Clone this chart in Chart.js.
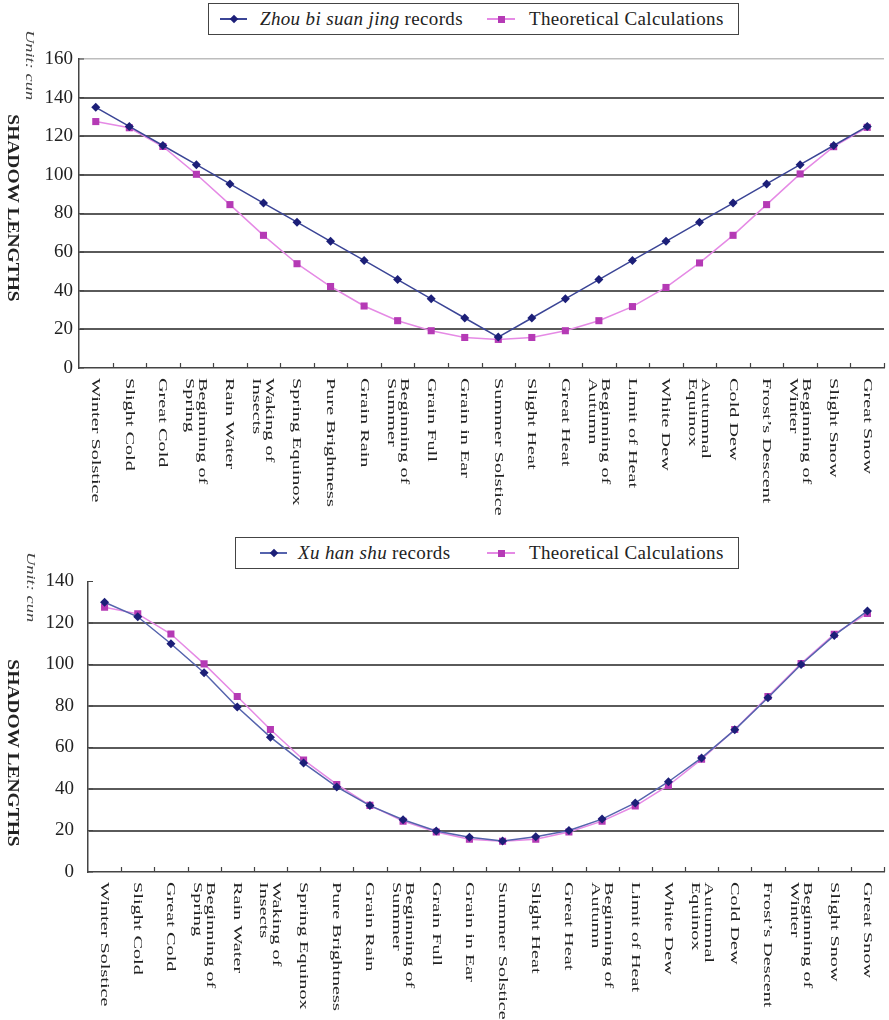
<!DOCTYPE html>
<html>
<head>
<meta charset="utf-8">
<script src="https://cdn.jsdelivr.net/npm/chart.js@4.4.1/dist/chart.umd.min.js"></script>
<style>
  html, body { margin: 0; padding: 0; background: #fff; }
  body { width: 889px; height: 1020px; position: relative; overflow: hidden;
         font-family: "Liberation Serif", "Times New Roman", "DejaVu Serif", serif; color: #222; }
  .panel { position: absolute; left: 0; width: 889px; }
  .legend { position: absolute; border: 1.5px solid #444; box-sizing: border-box; height: 32px;
            font-size: 19px; letter-spacing: 0.35px; white-space: nowrap; background: #fff; }
  .legend span.txt { position: absolute; top: 50%; transform: translateY(-52%); line-height: 1; }
  .sample { position: absolute; top: 50%; height: 0; }
  .sample .ln { position: absolute; left: 0; right: 0; top: -0.75px; height: 1.5px; }
  .sample .mk { position: absolute; }
  .ytitle { position: absolute; font-weight: bold; font-size: 16.5px; line-height: 1; white-space: nowrap;
            transform: translate(-50%, -50%) rotate(90deg) scaleX(1.18); }
  .unit { position: absolute; font-style: italic; font-size: 13px; line-height: 1; color: #444; white-space: nowrap;
          transform: translate(-50%, -50%) rotate(90deg) scaleX(1.42); }
</style>
</head>
<body>

<div class="panel" style="top:0;height:520px"><canvas id="chartTop" width="889" height="520"></canvas></div>
<div class="panel" style="top:520px;height:500px"><canvas id="chartBottom" width="889" height="500"></canvas></div>

<div class="ytitle" style="left:12.5px;top:207.5px">SHADOW LENGTHS</div>
<div class="unit" style="left:30px;top:65px">Unit: cun</div>
<div class="ytitle" style="left:12.5px;top:752.5px">SHADOW LENGTHS</div>
<div class="unit" style="left:31px;top:587px">Unit: cun</div>

<div class="legend" style="left:208px;top:3px;width:531px">
  <div class="sample" style="left:11px;width:27px"><div class="ln" style="background:#3b4596"></div>
    <div class="mk" style="left:10.5px;top:-3px;width:6px;height:6px;background:#1c1f78;transform:rotate(45deg)"></div></div>
  <span class="txt" style="left:51px"><i>Zhou bi suan jing</i> records</span>
  <div class="sample" style="left:278px;width:28px"><div class="ln" style="background:#e58ae5"></div>
    <div class="mk" style="left:10.5px;top:-3.5px;width:7px;height:7px;background:#b53ab5"></div></div>
  <span class="txt" style="left:320px">Theoretical Calculations</span>
</div>

<div class="legend" style="left:235px;top:537px;width:504px">
  <div class="sample" style="left:24px;width:27px"><div class="ln" style="background:#5563ad"></div>
    <div class="mk" style="left:10.5px;top:-3px;width:6px;height:6px;background:#1c1f78;transform:rotate(45deg)"></div></div>
  <span class="txt" style="left:62px"><i>Xu han shu</i> records</span>
  <div class="sample" style="left:251px;width:28px"><div class="ln" style="background:#e58ae5"></div>
    <div class="mk" style="left:10.5px;top:-3.5px;width:7px;height:7px;background:#b53ab5"></div></div>
  <span class="txt" style="left:293px">Theoretical Calculations</span>
</div>

<script>
// 24 solar terms, Winter Solstice to Great Snow
const categories = [
  "Winter Solstice", "Slight Cold", "Great Cold", ["Beginning of", "Spring"], "Rain Water",
  ["Waking of", "Insects"], "Spring Equinox", "Pure Brightness", "Grain Rain", ["Beginning of", "Summer"],
  "Grain Full", "Grain in Ear", "Summer Solstice", "Slight Heat", "Great Heat", ["Beginning of", "Autumn"],
  "Limit of Heat", "White Dew", ["Autumnal", "Equinox"], "Cold Dew", "Frost\u2019s Descent",
  ["Beginning of", "Winter"], "Slight Snow", "Great Snow"
];

// shadow lengths, unit: cun
const zhouBiRecords = [135.0, 125.1, 115.2, 105.3, 95.3, 85.4, 75.5, 65.6, 55.7, 45.8, 35.8, 25.9,
  16.0, 25.9, 35.8, 45.8, 55.7, 65.6, 75.5, 85.4, 95.3, 105.3, 115.2, 125.1];
const xuHanShuRecords = [130.0, 123.0, 110.0, 96.0, 79.5, 65.0, 52.5, 41.0, 32.0, 25.2, 19.8, 16.8,
  15.0, 17.0, 20.0, 25.5, 33.3, 43.5, 55.0, 68.5, 84.0, 100.0, 114.0, 125.8];
const theoretical = [127.6, 124.4, 114.7, 100.3, 84.6, 68.7, 54.0, 42.2, 32.1, 24.5, 19.3, 15.8,
  14.8, 15.8, 19.3, 24.5, 31.8, 41.7, 54.4, 68.7, 84.6, 100.5, 114.6, 124.6];

const topMax = 160;
const bottomMax = 140;

const serif = '"Liberation Serif", "Times New Roman", "DejaVu Serif", serif';

// inner tick marks + rotated category labels (read top to bottom)
const axisExtras = {
  id: "axisExtras",
  afterDraw(chart) {
    const { ctx, chartArea, scales: { x, y } } = chart;
    const labels = chart.data.labels;
    const half = (x.getPixelForValue(1) - x.getPixelForValue(0)) / 2;
    ctx.save();
    ctx.strokeStyle = "#444";
    ctx.lineWidth = 1.2;
    ctx.beginPath();
    for (let i = 0; i < labels.length; i++) {
      const px = Math.round(x.getPixelForValue(i) + half) + 0.5;
      ctx.moveTo(px, chartArea.bottom);
      ctx.lineTo(px, chartArea.bottom - 5);
    }
    y.ticks.forEach(t => {
      const py = y.getPixelForValue(t.value);
      ctx.moveTo(chartArea.left, py);
      ctx.lineTo(chartArea.left + 5, py);
    });
    ctx.stroke();

    ctx.fillStyle = "#222";
    ctx.font = "13.5px " + serif;
    ctx.textAlign = "left";
    ctx.textBaseline = "middle";
    labels.forEach((lab, i) => {
      const lines = [].concat(lab);
      ctx.save();
      ctx.translate(x.getPixelForValue(i), chartArea.bottom + 10);
      ctx.rotate(Math.PI / 2);
      ctx.scale(1.5, 1);
      lines.forEach((s, j) => ctx.fillText(s, 0, (j - (lines.length - 1) / 2) * 13));
      ctx.restore();
    });
    ctx.restore();
  }
};

function makeChart(id, records, blueLine, max, opts) {
  return new Chart(document.getElementById(id), {
    type: "line",
    plugins: [axisExtras],
    data: {
      labels: categories,
      datasets: [
        {
          data: records,
          borderColor: blueLine,
          borderWidth: 1.5,
          pointStyle: "rectRot",
          pointRadius: 4.5,
          pointBackgroundColor: "#1c1f78",
          pointBorderWidth: 0,
          tension: 0
        },
        {
          data: theoretical,
          borderColor: "#e58ae5",
          borderWidth: 1.5,
          pointStyle: "rect",
          pointRadius: 5,
          pointBackgroundColor: "#b53ab5",
          pointBorderWidth: 0,
          tension: 0
        }
      ]
    },
    options: {
      responsive: false,
      animation: false,
      layout: { padding: { top: opts.top, right: opts.right, left: 0, bottom: 0 } },
      plugins: { legend: { display: false }, tooltip: { enabled: false } },
      scales: {
        x: {
          offset: true,
          grid: { display: false },
          border: { color: "#444", width: 1.5 },
          ticks: { display: false },
          afterFit: s => { s.height = opts.xHeight; }
        },
        y: {
          min: 0,
          max: max,
          ticks: {
            stepSize: 20,
            padding: opts.tickPad,
            color: "#222",
            font: { family: serif, size: 19 }
          },
          grid: {
            drawTicks: false,
            color: c => c.tick.value === 0 ? "rgba(0,0,0,0)" :
              c.tick.value === max ? opts.topLine : "#5a5a5a",
            lineWidth: c => c.tick.value === max ? 1.5 : 2
          },
          border: { color: "#444", width: 1.5 },
          afterFit: s => { s.width = opts.yWidth; }
        }
      }
    }
  });
}

makeChart("chartTop", zhouBiRecords, "#3b4596", topMax,
  { top: 59, right: 0, xHeight: 152, yWidth: 79, tickPad: 6, topLine: "#bdbdbd" });
makeChart("chartBottom", xuHanShuRecords, "#5563ad", bottomMax,
  { top: 61.5, right: 5, xHeight: 148, yWidth: 88, tickPad: 14, topLine: "rgba(0,0,0,0)" });
</script>
</body>
</html>
